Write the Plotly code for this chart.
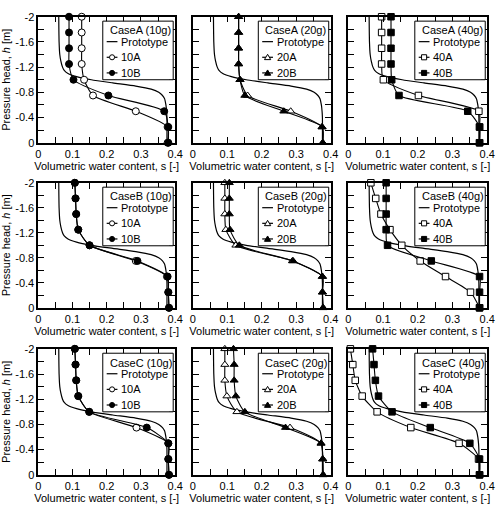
import plotly.graph_objects as go

W, H = 504, 516

# pressure head levels (m)
h = [-2.0, -1.75, -1.5, -1.25, -1.0, -0.75, -0.5, -0.25, 0.0]

# prototype retention curve
proto_h = [-2.0, -1.6, -1.4, -1.3, -1.2, -1.15, -1.1, -1.05, -1.0, -0.95, -0.9,
           -0.85, -0.8, -0.75, -0.7, -0.6, -0.5, -0.4, 0.0]
proto_s = [0.060, 0.061, 0.063, 0.066, 0.071, 0.076, 0.087, 0.112, 0.155, 0.218, 0.285,
           0.330, 0.352, 0.363, 0.369, 0.373, 0.375, 0.376, 0.376]

# measured volumetric water content
A10A = [0.127, 0.127, 0.127, 0.127, 0.134, 0.160, 0.285, 0.378, 0.378]
A10B = [0.090, 0.090, 0.090, 0.090, 0.103, 0.205, 0.368, 0.380, 0.380]
A20A = [0.133, 0.133, 0.133, 0.133, 0.137, 0.159, 0.284, 0.375, 0.377]
A20B = [0.133, 0.133, 0.133, 0.133, 0.137, 0.151, 0.264, 0.375, 0.377]
A40A = [0.096, 0.096, 0.096, 0.096, 0.101, 0.202, 0.376, 0.378, 0.378]
A40B = [0.123, 0.123, 0.123, 0.123, 0.125, 0.146, 0.344, 0.378, 0.378]
B10A = [0.107, 0.109, 0.111, 0.117, 0.150, 0.285, 0.376, 0.380, 0.382]
B10B = [0.107, 0.109, 0.111, 0.117, 0.150, 0.290, 0.378, 0.380, 0.382]
B20A = [0.093, 0.093, 0.093, 0.096, 0.125, 0.289, 0.376, 0.376, 0.378]
B20B = [0.106, 0.106, 0.106, 0.108, 0.135, 0.291, 0.376, 0.376, 0.378]
B40A = [0.065, 0.079, 0.094, 0.120, 0.154, 0.207, 0.280, 0.352, 0.378]
B40B = [0.109, 0.109, 0.109, 0.109, 0.113, 0.239, 0.378, 0.378, 0.378]
C10A = [0.107, 0.109, 0.111, 0.117, 0.149, 0.287, 0.380, 0.380, 0.382]
C10B = [0.107, 0.109, 0.111, 0.117, 0.149, 0.317, 0.380, 0.380, 0.382]
C20A = [0.093, 0.093, 0.093, 0.099, 0.128, 0.282, 0.372, 0.377, 0.378]
C20B = [0.118, 0.120, 0.120, 0.125, 0.151, 0.269, 0.372, 0.377, 0.378]
C40A = [0.006, 0.013, 0.020, 0.040, 0.083, 0.180, 0.319, 0.375, 0.378]
C40B = [0.070, 0.074, 0.078, 0.087, 0.126, 0.236, 0.350, 0.378, 0.378]

cases = ["CaseA", "CaseB", "CaseC"]
gs = ["10g", "20g", "40g"]
series = {
    ("CaseA", "10g"): (A10A, A10B), ("CaseA", "20g"): (A20A, A20B), ("CaseA", "40g"): (A40A, A40B),
    ("CaseB", "10g"): (B10A, B10B), ("CaseB", "20g"): (B20A, B20B), ("CaseB", "40g"): (B40A, B40B),
    ("CaseC", "10g"): (C10A, C10B), ("CaseC", "20g"): (C20A, C20B), ("CaseC", "40g"): (C40A, C40B),
}
symbols = {"10g": "circle", "20g": "triangle-up", "40g": "square"}
msize = {"10g": 7, "20g": 7, "40g": 6.5}

x_ticks = [0, 0.1, 0.2, 0.3, 0.4]
x_ticktext = ["0", "0.1", "0.2", "0.3", "0.4"]
y_ticks = [-2, -1.6, -1.2, -0.8, -0.4, 0]
y_ticktext = ["-2", "-1.6", "-1.2", "-0.8", "-0.4", "0"]

# pixel layout
cols = [(36, 176), (194, 335), (353, 495)]
rows = [(11, 140), (181, 309), (351, 480)]

FONT = "Liberation Sans, Arial, Helvetica, sans-serif"


def PX(x):
    return x / W


def PY(y):
    return 1 - y / H


fig = go.Figure()
shapes = []
annotations = []
layout = dict(
    width=W, height=H,
    margin=dict(l=0, r=0, t=0, b=0),
    paper_bgcolor="white", plot_bgcolor="white",
    font=dict(family=FONT, size=11, color="black"),
    showlegend=False,
)


def legend_marker(sym, cx, cy, filled):
    fill = "black" if filled else "white"
    if sym == "circle":
        r = 2.6
        return dict(type="circle", xref="paper", yref="paper",
                    x0=PX(cx - r), x1=PX(cx + r), y0=PY(cy + r), y1=PY(cy - r),
                    fillcolor=fill, line=dict(color="black", width=1), layer="above")
    if sym == "square":
        r = 2.6
        return dict(type="rect", xref="paper", yref="paper",
                    x0=PX(cx - r), x1=PX(cx + r), y0=PY(cy + r), y1=PY(cy - r),
                    fillcolor=fill, line=dict(color="black", width=1), layer="above")
    r = 3.2
    path = (f"M {PX(cx - r)},{PY(cy + r * 0.75)} L {PX(cx + r)},{PY(cy + r * 0.75)} "
            f"L {PX(cx)},{PY(cy - r * 0.95)} Z")
    return dict(type="path", xref="paper", yref="paper", path=path,
                fillcolor=fill, line=dict(color="black", width=1), layer="above")


k = 0
for r, case in enumerate(cases):
    for c, g in enumerate(gs):
        k += 1
        sfx = "" if k == 1 else str(k)
        xa, ya = "x" + sfx, "y" + sfx
        sA, sB = series[(case, g)]
        num = g[:2]
        fig.add_trace(go.Scatter(
            x=proto_s, y=proto_h, mode="lines", name="Prototype",
            line=dict(color="black", width=1.2, shape="spline", smoothing=0.6),
            xaxis=xa, yaxis=ya, cliponaxis=False))
        fig.add_trace(go.Scatter(
            x=sA, y=h, mode="lines+markers", name=num + "A",
            line=dict(color="black", width=1.1, shape="spline", smoothing=0.6),
            marker=dict(symbol=symbols[g], size=msize[g], color="white",
                        line=dict(color="black", width=1)),
            xaxis=xa, yaxis=ya, cliponaxis=False))
        fig.add_trace(go.Scatter(
            x=sB, y=h, mode="lines+markers", name=num + "B",
            line=dict(color="black", width=1.1, shape="spline", smoothing=0.6),
            marker=dict(symbol=symbols[g], size=msize[g], color="black",
                        line=dict(color="black", width=1)),
            xaxis=xa, yaxis=ya, cliponaxis=False))

        x0, x1 = cols[c]
        y0, y1 = rows[r]
        common = dict(showline=True, linecolor="black", linewidth=1.5, mirror="allticks",
                      ticks="inside", ticklen=6, tickwidth=1, tickcolor="black",
                      showgrid=False, zeroline=False, fixedrange=True,
                      tickfont=dict(family=FONT, size=11, color="black"))
        layout["xaxis" + sfx] = dict(
            common, domain=[x0 / W, x1 / W], anchor=ya, range=[0, 0.4],
            tickvals=x_ticks, ticktext=x_ticktext,
            minor=dict(dtick=0.05, tick0=0, ticks="inside", ticklen=6, tickwidth=1, tickcolor="black"),
            title=dict(text="Volumetric water content, s [-]", standoff=3,
                       font=dict(family=FONT, size=11, color="black")),
        )
        yd = dict(
            common, domain=[1 - y1 / H, 1 - y0 / H], anchor=xa, range=[0, -2],
            tickvals=y_ticks, ticktext=y_ticktext,
            minor=dict(dtick=0.2, tick0=0, ticks="inside", ticklen=6, tickwidth=1, tickcolor="black"),
        )
        if c == 0:
            yd["title"] = dict(text="Pressure head, <i>h</i> [m]", standoff=2,
                               font=dict(family=FONT, size=11, color="black"))
        else:
            yd["showticklabels"] = False
        layout["yaxis" + sfx] = yd

        # legend box (drawn in pixel space)
        R = x1 - 2
        L = R - 72
        T = y0 + 4.5
        B = T + 60
        shapes.append(dict(type="rect", xref="paper", yref="paper",
                           x0=PX(L), x1=PX(R), y0=PY(B), y1=PY(T),
                           fillcolor="white", line=dict(color="black", width=1), layer="above"))
        annotations.append(dict(xref="paper", yref="paper", x=PX(L + 5), y=PY(T + 9.5),
                                xanchor="left", yanchor="middle", showarrow=False,
                                text=f"{case} ({g})", font=dict(family=FONT, size=11, color="black")))
        rows_y = [T + 21, T + 37, T + 53]
        labels = ["Prototype", num + "A", num + "B"]
        for i, (yy, lab) in enumerate(zip(rows_y, labels)):
            shapes.append(dict(type="line", xref="paper", yref="paper",
                               x0=PX(L + 4), x1=PX(L + 15), y0=PY(yy), y1=PY(yy),
                               line=dict(color="black", width=1.2), layer="above"))
            if i > 0:
                shapes.append(legend_marker(symbols[g], L + 9.5, yy, filled=(i == 2)))
            annotations.append(dict(xref="paper", yref="paper", x=PX(L + 17), y=PY(yy),
                                    xanchor="left", yanchor="middle", showarrow=False,
                                    text=lab, font=dict(family=FONT, size=11, color="black")))

layout["shapes"] = shapes
layout["annotations"] = annotations
fig.update_layout(**layout)
fig.write_html("out.html")
